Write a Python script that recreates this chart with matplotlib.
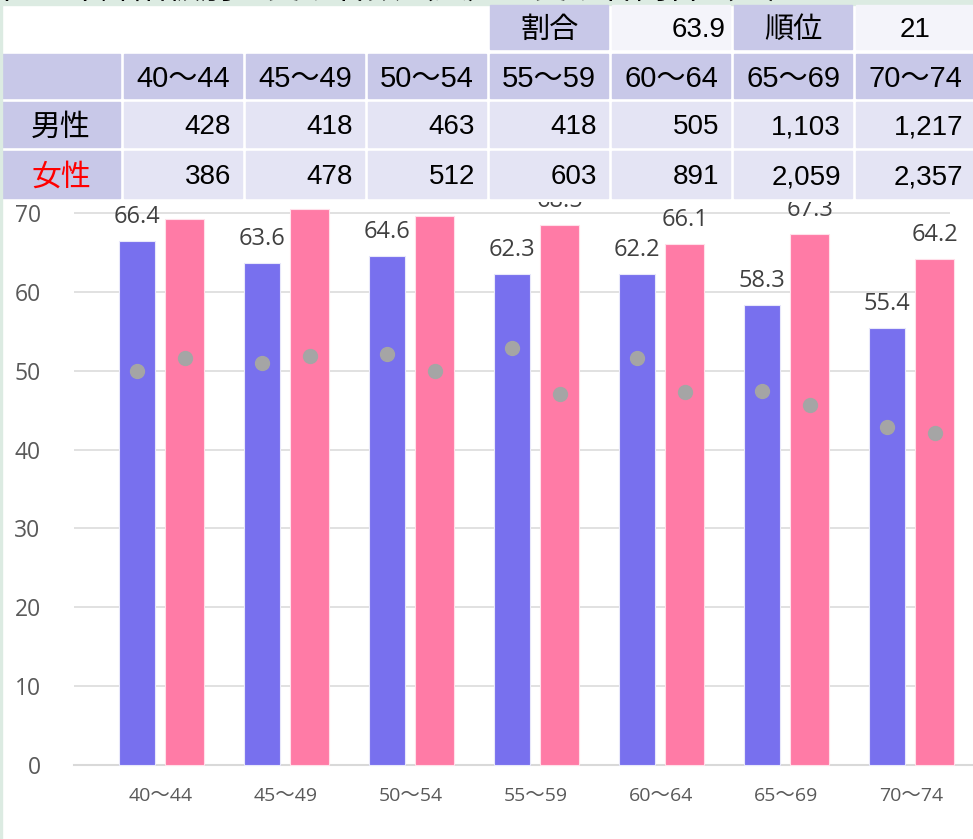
import matplotlib.pyplot as plt
import matplotlib.transforms as mtransforms
from matplotlib.patches import Rectangle
import numpy as np

# Daten
ages = ['40～44', '45～49', '50～54', '55～59', '60～64', '65～69', '70～74']
male_rate = [66.4, 63.6, 64.6, 62.3, 62.2, 58.3, 55.4]
female_rate = [69.3, 70.5, 69.6, 68.5, 66.1, 67.3, 64.2]
male_dot = [49.9, 51.0, 52.1, 52.9, 51.6, 47.4, 42.9]
female_dot = [51.6, 51.9, 49.9, 47.1, 47.3, 45.7, 42.1]
male_n = [428, 418, 463, 418, 505, 1103, 1217]
female_n = [386, 478, 512, 603, 891, 2059, 2357]
ratio = 63.9
rank = 21
title = '性・年齢階級別　受診者数（人）と受診者割合（％）'

W, H = 973, 839
purple = '#7870EE'
pink = '#FF7BA6'
gray = '#A5A5A5'
head_c = '#C8C8E8'
cell_c = '#E4E4F4'
light_c = '#F4F4FA'
green = '#DCEBE2'
tbl_font = ['Liberation Sans', 'Noto Sans CJK JP']
chart_font = ['Open Sans', 'Noto Sans CJK JP']

fig = plt.figure(figsize=(W / 100, H / 100), dpi=100)

## Diagramm
ax = fig.add_axes([74 / W, (H - 765) / H, (950 - 74) / W, 80 * 7.886 / H])
x = np.arange(len(ages))
ax.bar(x - 0.19, male_rate, width=0.29, color=purple, edgecolor='#E8E8FA',
       linewidth=0.8, clip_on=False, zorder=2)
ax.bar(x + 0.19, female_rate, width=0.31, color=pink, edgecolor='#FFE0EA',
       linewidth=0.8, clip_on=False, zorder=2)
ax.plot(x - 0.19, male_dot, 'o', color=gray, ms=10, zorder=3, clip_on=False)
ax.plot(x + 0.19, female_dot, 'o', color=gray, ms=10, zorder=3, clip_on=False)

for xi, v in zip(x - 0.19, male_rate):
    ax.annotate(f'{v:.1f}', (xi, v), xytext=(0, 13), textcoords='offset points',
                ha='center', va='baseline', fontsize=17, color='#404040',
                family=chart_font, zorder=4)
for xi, v in zip(x + 0.19, female_rate):
    ax.annotate(f'{v:.1f}', (xi, v), xytext=(0, 13), textcoords='offset points',
                ha='center', va='baseline', fontsize=17, color='#404040',
                family=chart_font, zorder=4)

ax.set_xlim(-0.696, -0.696 + 876 / 125)
ax.set_ylim(0, 80)
ax.set_yticks(range(0, 71, 10))
ax.set_xticks(x, ages)
ax.grid(axis='y', color='#D9D9D9', linewidth=1.1)
ax.set_axisbelow(True)
for s in ax.spines.values():
    s.set_visible(False)
ax.tick_params(axis='y', length=0, pad=24, labelsize=16.5, labelcolor='#595959')
ax.tick_params(axis='x', length=0, pad=16, labelsize=14, labelcolor='#595959')
for lbl in ax.get_xticklabels() + ax.get_yticklabels():
    lbl.set_fontfamily(chart_font)

# Kategorieachse (laenger als die Gitterlinien)
trans = mtransforms.blended_transform_factory(fig.transFigure, ax.transData)
ax.plot([74 / W, 1], [0, 0], color='#D9D9D9', lw=1.5, transform=trans,
        clip_on=False, zorder=1)

## Tabelle oben
tax = fig.add_axes([0, 1 - 202 / H, 1, 202 / H], zorder=5)
tax.set_xlim(0, W)
tax.set_ylim(202, 0)
tax.set_axis_off()
tax.add_patch(Rectangle((0, 0), W, 202, color='white', zorder=0))
tax.add_patch(Rectangle((0, 0), W, 5, color=green, zorder=1))
tax.text(0, 5, title, ha='left', va='bottom', fontsize=24, color='black',
         family=tbl_font, clip_on=False)

col_l = [2] + [124 + 122 * k for k in range(7)]
col_r = [120] + [242 + 122 * k for k in range(7)]
row_t = [5, 54, 102, 151]
row_b = [49, 98, 147, 198]


def cell(c, r, color, text='', ha='center', tcolor='black', pad=11, size=20):
    x0, x1 = col_l[c], col_r[c]
    y0, y1 = row_t[r], row_b[r]
    tax.add_patch(Rectangle((x0, y0), x1 - x0, y1 - y0, color=color, zorder=2))
    if ha == 'right':
        tx = x1 - pad
    else:
        tx = (x0 + x1) / 2
    tax.text(tx, (y0 + y1) / 2 + 3, text, ha=ha, va='center', fontsize=size,
             color=tcolor, family=tbl_font, zorder=3)


cell(4, 0, head_c, '割合', size=21)
cell(5, 0, light_c, f'{ratio:.1f}', ha='right', pad=4)
cell(6, 0, head_c, '順位', size=21)
cell(7, 0, light_c, str(rank))

cell(0, 1, head_c)
for i, a in enumerate(ages):
    cell(i + 1, 1, head_c, a, size=21)

cell(0, 2, head_c, '男性', size=21.5)
cell(0, 3, head_c, '女性', tcolor='#FF0000', size=21.5)
for i in range(len(ages)):
    cell(i + 1, 2, cell_c, f'{male_n[i]:,}', ha='right')
    cell(i + 1, 3, cell_c, f'{female_n[i]:,}', ha='right')

# linker Rand
fig.add_artist(Rectangle((0, 0), 2 / W, 1, transform=fig.transFigure,
                         color=green, zorder=10))

fig.savefig('out.png', dpi=100)
